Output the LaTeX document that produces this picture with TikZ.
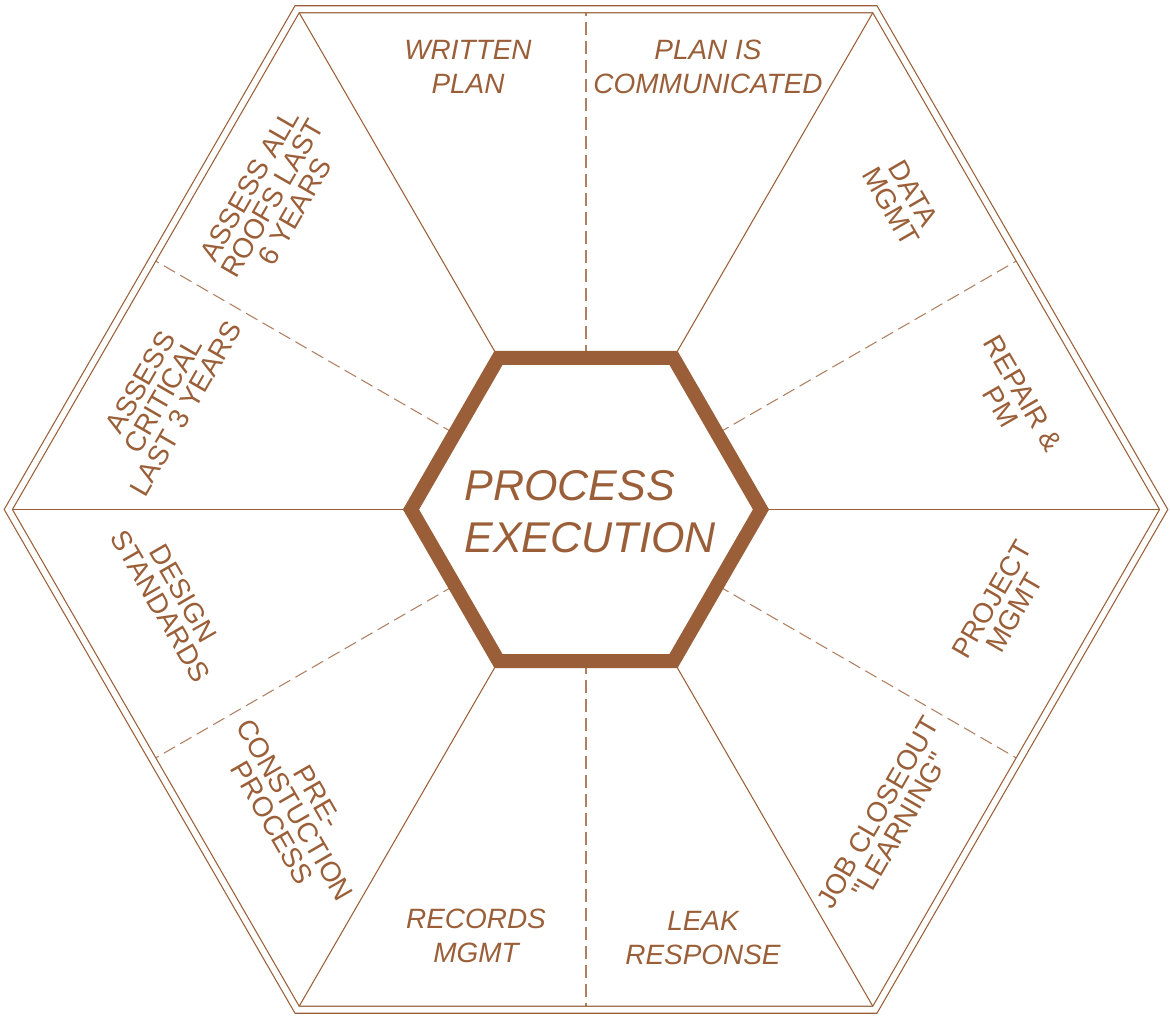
\documentclass[tikz,border=0pt]{standalone}
\usepackage{fontspec}
\setmainfont{Liberation Sans}
\usetikzlibrary{
  shapes.geometric,
  backgrounds
}
\definecolor{RoofBrown}{RGB}{154,95,56}
\tikzset{
  framehex/.style={regular polygon,regular polygon sides=6,minimum size=23.108cm,inner sep=0pt,outer sep=0pt,draw=RoofBrown,line width=0.024cm,double=white,double distance=0.116cm},
  corehex/.style={regular polygon,regular polygon sides=6,minimum size=7cm,inner sep=0pt,outer sep=0pt,draw=RoofBrown,line width=0.28cm},
  corelabel/.style={align=left,text=RoofBrown,inner sep=0pt,font=\fontsize{24.5}{29.6}\selectfont\itshape},
  spoke/.style={draw=RoofBrown,line width=0.6pt},
  divider/.style={draw=RoofBrown!80,line width=0.6pt,dash pattern=on 0.26cm off 0.12cm},
  flatlabel/.style={align=center,text=RoofBrown,inner sep=0pt,font=\fontsize{15.9}{19.4}\selectfont\itshape},
  tiltlabel/.style={align=center,text=RoofBrown,inner sep=0pt,font=\fontsize{15.9}{14.9}\selectfont}
}

\begin{document}
\begin{tikzpicture}
\useasboundingbox (-11.72,-10.13) rectangle (11.68,10.19);
\node[framehex] (frame) at (0,0) {};
\node[corehex] (core) at (0,0) {};
\node[corelabel] (title) at (0.08,-0.04) {PROCESS\\EXECUTION};
\begin{scope}[on background layer]
\draw[spoke] (core.0) -- (frame.0);
\draw[spoke] (core.60) -- (frame.60);
\draw[spoke] (core.120) -- (frame.120);
\draw[spoke] (core.180) -- (frame.180);
\draw[spoke] (core.240) -- (frame.240);
\draw[spoke] (core.300) -- (frame.300);
\draw[divider] (core.30) -- (frame.30);
\draw[divider] (core.90) -- (frame.90);
\draw[divider] (core.150) -- (frame.150);
\draw[divider] (core.210) -- (frame.210);
\draw[divider] (core.270) -- (frame.270);
\draw[divider] (core.330) -- (frame.330);
\end{scope}
\node[flatlabel] (written) at (-2.36,8.85) {WRITTEN\\PLAN};
\node[flatlabel] (communicated) at (2.44,8.85) {PLAN IS\\COMMUNICATED};
\node[tiltlabel, rotate=-60] (data) at (6.32,6.19) {DATA\\MGMT};
\node[tiltlabel, rotate=-60] (repair) at (8.52,2.19) {REPAIR \&\\PM};
\node[tiltlabel, rotate=60] (project) at (8.34,-1.93) {PROJECT\\MGMT};
\node[tiltlabel, rotate=60] (closeout) at (6.06,-6.19) {JOB CLOSEOUT\\\textquotedbl LEARNING\textquotedbl};
\node[flatlabel] (leak) at (2.34,-8.57) {LEAK\\RESPONSE};
\node[flatlabel] (records) at (-2.2,-8.53) {RECORDS\\MGMT};
\node[tiltlabel, rotate=-60] (precon) at (-5.82,-6.01) {PRE-\\CONSTUCTION\\PROCESS};
\node[tiltlabel, rotate=-60] (design) at (-8.28,-1.81) {DESIGN\\STANDARDS};
\node[tiltlabel, rotate=60] (critical) at (-8.46,2.28) {ASSESS\\CRITICAL\\LAST 3 YEARS};
\node[tiltlabel, rotate=60] (allroofs) at (-6.28,6.22) {ASSESS ALL\\ROOFS LAST\\6 YEARS};
\end{tikzpicture}
\end{document}
